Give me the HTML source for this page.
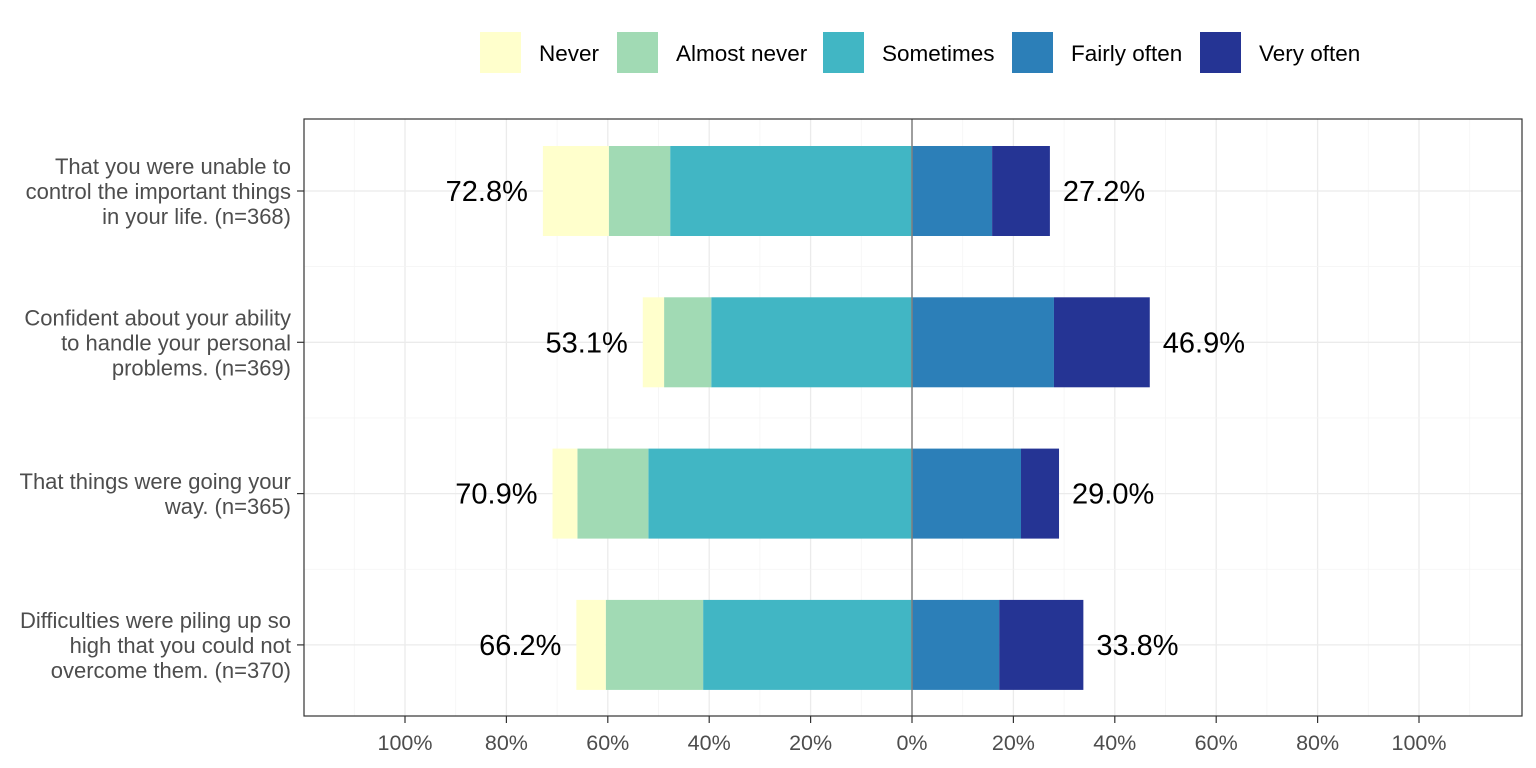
<!DOCTYPE html>
<html><head><meta charset="utf-8"><style>
html,body{margin:0;padding:0;background:#fff;}
svg{display:block;font-family:"Liberation Sans",Arial,sans-serif;}
</style></head><body>
<svg id="chart" width="1536" height="768"></svg>
<script>
const categories=["That you were unable to|control the important things|in your life. (n=368)","Confident about your ability|to handle your personal|problems. (n=369)","That things were going your|way. (n=365)","Difficulties were piling up so|high that you could not|overcome them. (n=370)"];
const seriesNames=["Never","Almost never","Sometimes","Fairly often","Very often"];
const colors=["#FFFFCC","#A1DAB4","#41B6C4","#2C7FB8","#253494"];
const never=[13.0,4.2,4.9,5.8];
const almostNever=[12.1,9.3,14.0,19.2];
const sometimes=[47.7,39.6,52.0,41.2];
const fairlyOften=[15.8,28.0,21.5,17.2];
const veryOften=[11.4,18.9,7.5,16.6];
const leftLabels=["72.8%","53.1%","70.9%","66.2%"];
const rightLabels=["27.2%","46.9%","29.0%","33.8%"];
const tickValues=[-100,-80,-60,-40,-20,0,20,40,60,80,100];
const tickLabels=["100%","80%","60%","40%","20%","0%","20%","40%","60%","80%","100%"];

const svg=document.getElementById('chart');
const NS="http://www.w3.org/2000/svg";
function mk(tag,attrs,parent){const e=document.createElementNS(NS,tag);for(const k in attrs)e.setAttribute(k,attrs[k]);(parent||svg).appendChild(e);return e;}
const PL=304,PR=1522,PT=119,PB=716,X0=912,PX=5.07;
const x=v=>X0+v*PX;
const rowStep=151.3;
const y=i=>191+rowStep*i;
const barH=90;

const panel=mk('rect',{x:PL,y:PT,width:PR-PL,height:PB-PT,fill:'#fff'});


for(let v=-110;v<=110;v+=10){
  const major=v%20===0;
  const g=mk('line',{x1:x(v),x2:x(v),y1:PT,y2:PB,stroke:major?'#ebebeb':'#f4f4f4','stroke-width':major?1.3:0.8});
  
  
}
for(let i=0;i<categories.length;i++){
  const g=mk('line',{x1:PL,x2:PR,y1:y(i),y2:y(i),stroke:'#ebebeb','stroke-width':1.3});
  
  
  if(i>0){const m=mk('line',{x1:PL,x2:PR,y1:y(i)-rowStep/2,y2:y(i)-rowStep/2,stroke:'#f4f4f4','stroke-width':0.8});
  
  }
}
const allSeries=[never,almostNever,sometimes,fairlyOften,veryOften];
for(let i=0;i<categories.length;i++){
  let cur=0;
  for(const s of [2,1,0]){
    const v=allSeries[s][i];
    const r=mk('rect',{x:x(-(cur+v)),y:y(i)-barH/2,width:v*PX,height:barH,fill:colors[s]});
    
    
    cur+=v;
  }
  const lt=mk('text',{x:x(-cur)-15,y:y(i)+10,'text-anchor':'end','font-size':29,fill:'#000'});
  lt.textContent=leftLabels[i];
  
  
  cur=0;
  for(const s of [3,4]){
    const v=allSeries[s][i];
    const r=mk('rect',{x:x(cur),y:y(i)-barH/2,width:v*PX,height:barH,fill:colors[s]});
    
    
    cur+=v;
  }
  const rt=mk('text',{x:x(cur)+13,y:y(i)+10,'text-anchor':'start','font-size':29,fill:'#000'});
  rt.textContent=rightLabels[i];
  
  
  const lines=categories[i].split('|');
  const ct=mk('text',{'text-anchor':'end','font-size':22,fill:'#4d4d4d'});
  
  
  lines.forEach((l,k)=>{const ts=mk('tspan',{x:291,y:y(i)+8+(k-(lines.length-1)/2)*25},ct);ts.textContent=l;});
  const tk=mk('line',{x1:297,x2:PL,y1:y(i),y2:y(i),stroke:'#333','stroke-width':1.2});
  
  
}
const zl=mk('line',{x1:X0,x2:X0,y1:PT,y2:PB,stroke:'#808080','stroke-width':1.5});


const border=mk('rect',{x:PL,y:PT,width:PR-PL,height:PB-PT,fill:'none',stroke:'#333','stroke-width':1.2});


tickValues.forEach((v,k)=>{
  const t=mk('line',{x1:x(v),x2:x(v),y1:PB,y2:PB+7,stroke:'#333','stroke-width':1.2});
  
  
  const tl=mk('text',{x:x(v),y:PB+34,'text-anchor':'middle','font-size':21.5,fill:'#4d4d4d'});
  tl.textContent=tickLabels[k];
  
  
});
const legX=[480,617,823,1012,1200];
seriesNames.forEach((n,k)=>{
  const r=mk('rect',{x:legX[k],y:32,width:41,height:41,fill:colors[k]});
  
  
  const t=mk('text',{x:legX[k]+59,y:61,'font-size':22.5,fill:'#000'});
  t.textContent=n;
  
  
});
</script>
</body></html>
